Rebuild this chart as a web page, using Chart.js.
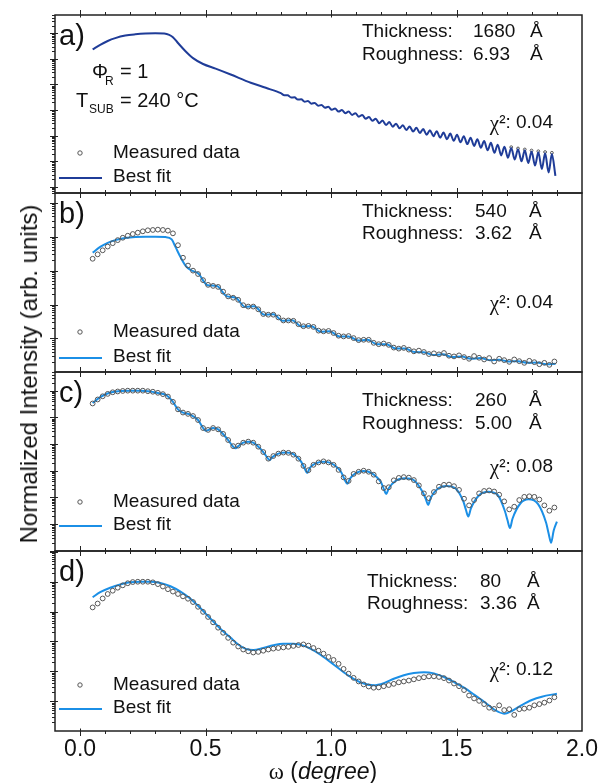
<!DOCTYPE html>
<html>
<head>
<meta charset="utf-8">
<title>XRR fits</title>
<script src="https://cdn.jsdelivr.net/npm/chart.js@4.4.1/dist/chart.umd.min.js"></script>
<style>
  html, body { margin: 0; padding: 0; background: #fff; }
  #wrap { position: relative; width: 606px; height: 783px; overflow: hidden; font-family: "Liberation Sans", Arial, sans-serif; color: #111; }
  #wrap canvas { position: absolute; left: 0; }
  #ytitle { position: absolute; left: 29px; top: 374px; transform: translate(-50%, -50%) rotate(-90deg); font-size: 24px; white-space: nowrap; }
  #xtitle { position: absolute; left: 323px; top: 771px; transform: translate(-50%, -50%); font-size: 23px; white-space: nowrap; }
  .omega { font-family: "Liberation Serif", "Times New Roman", serif; }
</style>
</head>
<body>
<div id="wrap">
  <canvas id="pa"></canvas>
  <canvas id="pb"></canvas>
  <canvas id="pc"></canvas>
  <canvas id="pd"></canvas>
  <div id="ytitle">Normalized Intensity (arb. units)</div>
  <div id="xtitle"><span class="omega">ω</span> (<i>degree</i>)</div>
</div>
<script>
// texts of the four panels
const panelLabels = ['a)', 'b)', 'c)', 'd)'];
const thicknessVals = ['1680', '540', '260', '80'];
const roughnessVals = ['6.93', '3.62', '5.00', '3.36'];
const chiVals = ['0.04', '0.04', '0.08', '0.12'];

// x axis ticks
const xTickValues = [0, 0.5, 1.0, 1.5, 2.0];
const xTickLabels = ['0.0', '0.5', '1.0', '1.5', '2.0'];
const xMinorTicks = [0.1, 0.2, 0.3, 0.4, 0.6, 0.7, 0.8, 0.9, 1.1, 1.2, 1.3, 1.4, 1.6, 1.7, 1.8, 1.9];

// all intensities below are log10 of the normalized intensity

// shared omega grid of the measured points (panels b, c, d)
const omegaMeas = [0.05,0.07,0.09,0.11,0.13,0.15,0.17,0.19,0.21,0.23,0.25,0.27,0.29,0.31,0.33,0.35,0.37,0.39,0.41,0.43,
  0.45,0.47,0.49,0.51,0.53,0.55,0.57,0.59,0.61,0.63,0.65,0.67,0.69,0.71,0.73,0.75,0.77,0.79,0.81,0.83,
  0.85,0.87,0.89,0.91,0.93,0.95,0.97,0.99,1.01,1.03,1.05,1.07,1.09,1.11,1.13,1.15,1.17,1.19,1.21,1.23,
  1.25,1.27,1.29,1.31,1.33,1.35,1.37,1.39,1.41,1.43,1.45,1.47,1.49,1.51,1.53,1.55,1.57,1.59,1.61,1.63,
  1.65,1.67,1.69,1.71,1.73,1.75,1.77,1.79,1.81,1.83,1.85,1.87,1.89];

// a) 1680 A
const fitAOmega = [0.05,0.08,0.11,0.14,0.18,0.22,0.26,0.30,0.335,0.355,0.37,0.39,0.42,0.45,0.49,0.54,0.60,0.68,0.74,
  0.800,0.814,0.827,0.841,0.854,0.868,0.881,0.895,0.908,0.922,0.935,0.949,0.962,0.976,0.989,1.003,1.016,1.030,1.043,1.057,
  1.070,1.084,1.097,1.111,1.124,1.138,1.151,1.165,1.178,1.192,1.205,1.219,1.232,1.246,1.259,1.273,1.286,1.300,1.313,1.327,
  1.340,1.354,1.367,1.381,1.394,1.408,1.421,1.435,1.448,1.462,1.475,1.489,1.502,1.516,1.529,1.543,1.556,1.570,1.583,1.597,
  1.610,1.624,1.637,1.651,1.664,1.678,1.691,1.705,1.718,1.732,1.745,1.759,1.772,1.786,1.799,1.813,1.826,1.840,1.853,1.867,
  1.880,1.894];
const fitALog = [-0.63,-0.45,-0.30,-0.19,-0.09,-0.04,-0.01,0,-0.01,-0.06,-0.15,-0.38,-0.70,-0.97,-1.20,-1.38,-1.61,-1.93,-2.13,
  -2.34,-2.42,-2.42,-2.51,-2.50,-2.59,-2.58,-2.67,-2.65,-2.75,-2.72,-2.83,-2.80,-2.91,-2.87,-2.99,-2.94,-3.06,-3.00,-3.12,
  -3.06,-3.19,-3.12,-3.26,-3.19,-3.34,-3.27,-3.42,-3.34,-3.51,-3.41,-3.58,-3.47,-3.65,-3.53,-3.71,-3.59,-3.78,-3.64,-3.84,
  -3.69,-3.90,-3.74,-3.96,-3.79,-4.02,-3.83,-4.08,-3.88,-4.14,-3.92,-4.20,-3.96,-4.26,-4.02,-4.33,-4.08,-4.40,-4.14,-4.47,
  -4.21,-4.57,-4.28,-4.67,-4.35,-4.77,-4.43,-4.86,-4.48,-4.93,-4.53,-5.00,-4.57,-5.07,-4.62,-5.17,-4.65,-5.30,-4.69,-5.44,
  -4.72,-5.57];
// in a) the measured curve hides under the fit; only the last fringe tops show
const measAOmega = [1.718,1.745,1.772,1.799,1.826,1.853,1.880];
const measALog = [-4.45,-4.50,-4.54,-4.58,-4.61,-4.64,-4.67];

// b) 540 A
const fitBOmega = [0.05,0.08,0.11,0.14,0.18,0.22,0.26,0.30,0.34,0.365,0.38,0.40,0.42,0.44,0.47,0.508,0.545,0.583,0.62,0.658,
  0.695,0.733,0.77,0.808,0.845,0.883,0.92,0.958,0.995,1.033,1.07,1.108,1.145,1.183,1.22,1.258,1.295,1.333,1.37,1.408,
  1.445,1.483,1.52,1.558,1.595,1.633,1.67,1.708,1.745,1.783,1.82,1.858,1.895];
const fitBLog = [-0.47,-0.30,-0.18,-0.10,-0.04,-0.01,0,0,-0.01,-0.08,-0.30,-0.60,-0.85,-0.98,-1.08,-1.43,-1.45,-1.75,-1.80,-2.07,
  -2.05,-2.30,-2.29,-2.48,-2.46,-2.65,-2.63,-2.80,-2.79,-2.94,-2.94,-3.06,-3.04,-3.17,-3.17,-3.30,-3.30,-3.40,-3.41,-3.49,
  -3.47,-3.55,-3.53,-3.60,-3.58,-3.64,-3.63,-3.68,-3.67,-3.72,-3.71,-3.76,-3.75];
const measBLog = [-0.65,-0.52,-0.40,-0.29,-0.19,-0.10,-0.03,0.03,0.08,0.12,0.16,0.19,0.20,0.21,0.20,0.18,0.10,-0.25,-0.62,-0.85,
  -1.00,-1.10,-1.28,-1.42,-1.45,-1.48,-1.62,-1.76,-1.80,-1.86,-2.02,-2.06,-2.06,-2.14,-2.28,-2.30,-2.30,-2.38,-2.47,-2.47,
  -2.48,-2.58,-2.64,-2.63,-2.66,-2.77,-2.79,-2.78,-2.84,-2.92,-2.94,-2.93,-2.99,-3.05,-3.04,-3.04,-3.13,-3.17,-3.15,-3.19,
  -3.27,-3.30,-3.28,-3.33,-3.38,-3.36,-3.40,-3.46,-3.44,-3.47,-3.43,-3.51,-3.53,-3.50,-3.55,-3.60,-3.52,-3.57,-3.62,-3.58,
  -3.68,-3.60,-3.64,-3.69,-3.62,-3.67,-3.72,-3.66,-3.70,-3.76,-3.72,-3.78,-3.68];

// c) 260 A
const fitCOmega = [0.05,0.08,0.12,0.16,0.20,0.24,0.28,0.31,0.34,0.37,0.39,0.41,0.44,0.47,0.49,0.50,0.51,0.53,0.55,0.59,
  0.61,0.62,0.63,0.65,0.67,0.69,0.73,0.745,0.755,0.765,0.79,0.82,0.85,0.88,0.895,0.905,0.915,0.94,0.97,1.00,
  1.04,1.055,1.065,1.075,1.10,1.13,1.16,1.20,1.21,1.22,1.23,1.26,1.295,1.33,1.365,1.377,1.387,1.397,1.425,1.46,
  1.495,1.527,1.537,1.547,1.557,1.59,1.627,1.665,1.693,1.703,1.713,1.723,1.755,1.787,1.825,1.857,1.867,1.877,1.887,1.90];
const fitCLog = [-0.46,-0.24,-0.07,-0.01,0,0,-0.03,-0.09,-0.15,-0.42,-0.70,-0.82,-0.90,-1.10,-1.40,-1.50,-1.48,-1.40,-1.45,-1.85,
  -2.10,-2.16,-2.08,-1.95,-1.91,-1.95,-2.30,-2.50,-2.60,-2.50,-2.36,-2.32,-2.38,-2.65,-2.92,-3.09,-2.90,-2.72,-2.66,-2.72,
  -3.05,-3.35,-3.49,-3.30,-3.08,-3.01,-3.08,-3.45,-3.68,-3.87,-3.66,-3.36,-3.28,-3.36,-3.80,-4.05,-4.28,-4.02,-3.68,-3.57,
  -3.66,-4.15,-4.45,-4.72,-4.42,-3.92,-3.79,-3.92,-4.52,-4.85,-5.15,-4.80,-4.22,-4.07,-4.25,-4.95,-5.35,-5.70,-5.25,-4.91];
const measCLog = [-0.48,-0.33,-0.21,-0.12,-0.06,-0.03,-0.01,0,0,0,0,-0.02,-0.04,-0.08,-0.13,-0.22,-0.42,-0.70,-0.82,-0.87,
  -0.95,-1.10,-1.40,-1.47,-1.40,-1.45,-1.62,-1.85,-2.08,-2.06,-1.95,-1.91,-1.95,-2.10,-2.30,-2.55,-2.45,-2.36,-2.32,-2.33,
  -2.40,-2.55,-2.82,-2.98,-2.78,-2.69,-2.65,-2.69,-2.78,-2.97,-3.25,-3.38,-3.12,-3.04,-3.00,-3.04,-3.15,-3.40,-3.65,-3.62,
  -3.36,-3.27,-3.24,-3.26,-3.35,-3.55,-3.85,-4.03,-3.80,-3.60,-3.53,-3.52,-3.58,-3.72,-4.05,-4.30,-4.10,-3.85,-3.76,-3.74,
  -3.78,-3.90,-4.15,-4.45,-4.35,-4.10,-3.98,-3.96,-3.98,-4.08,-4.30,-4.50,-4.38];

// d) 80 A
const fitDOmega = [0.05,0.08,0.12,0.16,0.20,0.24,0.28,0.32,0.36,0.40,0.44,0.48,0.52,0.56,0.60,0.63,0.66,0.69,0.73,0.77,
  0.81,0.85,0.89,0.93,0.97,1.01,1.05,1.09,1.13,1.17,1.21,1.25,1.29,1.33,1.37,1.41,1.45,1.49,1.53,1.57,
  1.61,1.65,1.69,1.72,1.76,1.80,1.84,1.90];
const fitDLog = [-0.52,-0.35,-0.20,-0.09,-0.02,0,0,-0.04,-0.15,-0.33,-0.57,-0.89,-1.24,-1.58,-1.88,-2.10,-2.25,-2.29,-2.22,-2.13,
  -2.08,-2.08,-2.14,-2.30,-2.52,-2.77,-3.03,-3.25,-3.41,-3.47,-3.40,-3.25,-3.13,-3.06,-3.03,-3.07,-3.19,-3.36,-3.55,-3.78,
  -4.02,-4.28,-4.42,-4.33,-4.13,-3.96,-3.85,-3.75];
const measDLog = [-0.86,-0.73,-0.56,-0.41,-0.30,-0.20,-0.12,-0.05,-0.01,0,0,0,-0.02,-0.08,-0.16,-0.25,-0.33,-0.41,-0.49,-0.57,
  -0.68,-0.84,-1.01,-1.18,-1.36,-1.54,-1.71,-1.88,-2.04,-2.17,-2.27,-2.33,-2.37,-2.35,-2.31,-2.27,-2.24,-2.22,-2.20,-2.18,
  -2.15,-2.12,-2.10,-2.14,-2.22,-2.31,-2.41,-2.52,-2.62,-2.75,-2.92,-3.08,-3.22,-3.34,-3.44,-3.51,-3.55,-3.54,-3.50,-3.46,
  -3.42,-3.37,-3.34,-3.31,-3.27,-3.23,-3.20,-3.17,-3.17,-3.19,-3.23,-3.31,-3.41,-3.50,-3.63,-3.81,-3.91,-3.99,-4.10,-4.22,
  -4.26,-4.14,-4.30,-4.27,-4.46,-4.27,-4.25,-4.22,-4.14,-4.10,-4.05,-3.98,-3.87];

const SANS = '"Liberation Sans", Arial, sans-serif';
const SERIF = '"Liberation Serif", "Times New Roman", serif';

function toPoints(xs, logs) {
  return xs.map((x, i) => ({ x: x, y: Math.pow(10, logs[i]) }));
}

// panel geometry and text placement
const panels = [
  { id: 'pa', top: 15, bottom: 193, lo: -6.24, hi: 0.715, color: '#1f3c98', fitOnTop: true, r: 1.4,
    fit: toPoints(fitAOmega, fitALog), meas: toPoints(measAOmega, measALog),
    dyT: 17, dyR: 40, dyChi: 108, dyM: 138, dyF: 162, labX: 362, valX: 473, unitX: 530 },
  { id: 'pb', top: 193, bottom: 372, lo: -3.99, hi: 1.29, color: '#1b8fe6', fitOnTop: false, r: 2.4,
    fit: toPoints(fitBOmega, fitBLog), meas: toPoints(omegaMeas, measBLog),
    dyT: 18.5, dyR: 41, dyChi: 110, dyM: 139, dyF: 164, labX: 362, valX: 475, unitX: 529 },
  { id: 'pc', top: 372, bottom: 551, lo: -6.01, hi: 0.70, color: '#1b8fe6', fitOnTop: false, r: 2.4,
    fit: toPoints(fitCOmega, fitCLog), meas: toPoints(omegaMeas, measCLog),
    dyT: 29, dyR: 52, dyChi: 95, dyM: 130, dyF: 153, labX: 362, valX: 475, unitX: 529 },
  { id: 'pd', top: 551, bottom: 731, lo: -5.0, hi: 1.03, color: '#1b8fe6', fitOnTop: false, r: 2.4,
    fit: toPoints(fitDOmega, fitDLog), meas: toPoints(omegaMeas, measDLog),
    dyT: 30.5, dyR: 53, dyChi: 119, dyM: 134, dyF: 157, labX: 367, valX: 480, unitX: 527 }
];

const PAD = 8;

function panelPlugin(p, idx, last) {
  return {
    id: 'panel' + idx,
    afterDatasetsDraw(chart) {
      const ctx = chart.ctx;
      const a = chart.chartArea;
      const xs = chart.scales.x, ys = chart.scales.y;
      ctx.save();

      // ticks, pointing out of the box
      ctx.strokeStyle = '#222';
      ctx.lineWidth = 1;
      ctx.beginPath();
      xTickValues.concat(xMinorTicks).forEach(v => {
        if (v <= -0.1 || v >= 2.0) return;
        const px = Math.round(xs.getPixelForValue(v)) + 0.5;
        const major = xTickValues.includes(v);
        const out = major ? 5 : 3, inn = major ? 2.5 : 0;
        ctx.moveTo(px, a.top - out); ctx.lineTo(px, a.top + inn);
        ctx.moveTo(px, a.bottom + out); ctx.lineTo(px, a.bottom - inn);
      });
      for (let n = -8; n <= 2; n++) {
        for (let m = 1; m <= 9; m++) {
          const v = m * Math.pow(10, n);
          if (v <= ys.min || v >= ys.max) continue;
          const py = Math.round(ys.getPixelForValue(v)) + 0.5;
          const out = m === 1 ? 5 : 3, inn = m === 1 ? 3 : 0;
          ctx.moveTo(a.left - out, py); ctx.lineTo(a.left + inn, py);
        }
      }
      ctx.stroke();

      ctx.lineWidth = 1.5;
      ctx.strokeRect(a.left, a.top, a.right - a.left, a.bottom - a.top);

      // texts
      ctx.fillStyle = '#111';
      ctx.textBaseline = 'middle';
      ctx.textAlign = 'left';
      ctx.font = '29px ' + SANS;
      ctx.fillText(panelLabels[idx], 59, a.top + 22);

      ctx.font = '19px ' + SANS;
      ctx.fillText('Thickness:', p.labX, a.top + p.dyT);
      ctx.fillText(thicknessVals[idx], p.valX, a.top + p.dyT);
      ctx.fillText('Å', p.unitX, a.top + p.dyT);
      ctx.fillText('Roughness:', p.labX, a.top + p.dyR);
      ctx.fillText(roughnessVals[idx], p.valX, a.top + p.dyR);
      ctx.fillText('Å', p.unitX, a.top + p.dyR);

      const rest = '²: ' + chiVals[idx];
      const wRest = ctx.measureText(rest).width;
      ctx.font = '21px ' + SERIF;
      const wChi = ctx.measureText('χ').width;
      ctx.fillText('χ', 553 - wRest - wChi, a.top + p.dyChi + 1);
      ctx.font = '19px ' + SANS;
      ctx.fillText(rest, 553 - wRest, a.top + p.dyChi);

      // legend
      ctx.fillText('Measured data', 113, a.top + p.dyM);
      ctx.fillText('Best fit', 113, a.top + p.dyF);
      ctx.strokeStyle = '#555';
      ctx.lineWidth = 1;
      ctx.beginPath();
      ctx.arc(80, a.top + p.dyM, 2.2, 0, Math.PI * 2);
      ctx.stroke();
      ctx.strokeStyle = p.color;
      ctx.lineWidth = 2;
      ctx.beginPath();
      ctx.moveTo(59, a.top + p.dyF + 1);
      ctx.lineTo(102, a.top + p.dyF + 1);
      ctx.stroke();

      if (idx === 0) {
        ctx.font = '20px ' + SANS;
        ctx.fillText('Φ', 92, a.top + 57);
        ctx.fillText('= 1', 120, a.top + 57);
        ctx.fillText('T', 76, a.top + 86);
        ctx.fillText('= 240 °C', 120, a.top + 86);
        ctx.font = '12px ' + SANS;
        ctx.fillText('R', 105, a.top + 67);
        ctx.fillText('SUB', 89, a.top + 95);
      }

      if (last) {
        ctx.font = '23px ' + SANS;
        ctx.textAlign = 'center';
        xTickValues.forEach((v, i) => {
          ctx.fillText(xTickLabels[i], xs.getPixelForValue(v), a.bottom + 19);
        });
      }
      ctx.restore();
    }
  };
}

panels.forEach((p, idx) => {
  const last = idx === panels.length - 1;
  const extra = last ? 32 : 0;
  const canvas = document.getElementById(p.id);
  canvas.width = 606;
  canvas.height = (p.bottom - p.top) + 2 * PAD + extra;
  canvas.style.top = (p.top - PAD) + 'px';

  new Chart(canvas, {
    type: 'scatter',
    data: {
      datasets: [
        {
          label: 'Best fit',
          data: p.fit,
          showLine: true,
          borderColor: p.color,
          borderWidth: 2,
          pointRadius: 0,
          cubicInterpolationMode: 'monotone',
          order: p.fitOnTop ? 0 : 1
        },
        {
          label: 'Measured data',
          data: p.meas,
          showLine: false,
          pointStyle: 'circle',
          pointRadius: p.r,
          pointBorderWidth: 1,
          pointBorderColor: '#555',
          pointBackgroundColor: 'rgba(0,0,0,0)',
          order: p.fitOnTop ? 1 : 0
        }
      ]
    },
    options: {
      responsive: false,
      animation: false,
      events: [],
      layout: { padding: { left: 55, right: 24, top: PAD, bottom: PAD + extra } },
      scales: {
        x: { type: 'linear', min: -0.1, max: 2.0, display: false },
        y: { type: 'logarithmic', min: Math.pow(10, p.lo), max: Math.pow(10, p.hi), display: false }
      },
      plugins: { legend: { display: false }, tooltip: { enabled: false } }
    },
    plugins: [panelPlugin(p, idx, last)]
  });
});
</script>
</body>
</html>
